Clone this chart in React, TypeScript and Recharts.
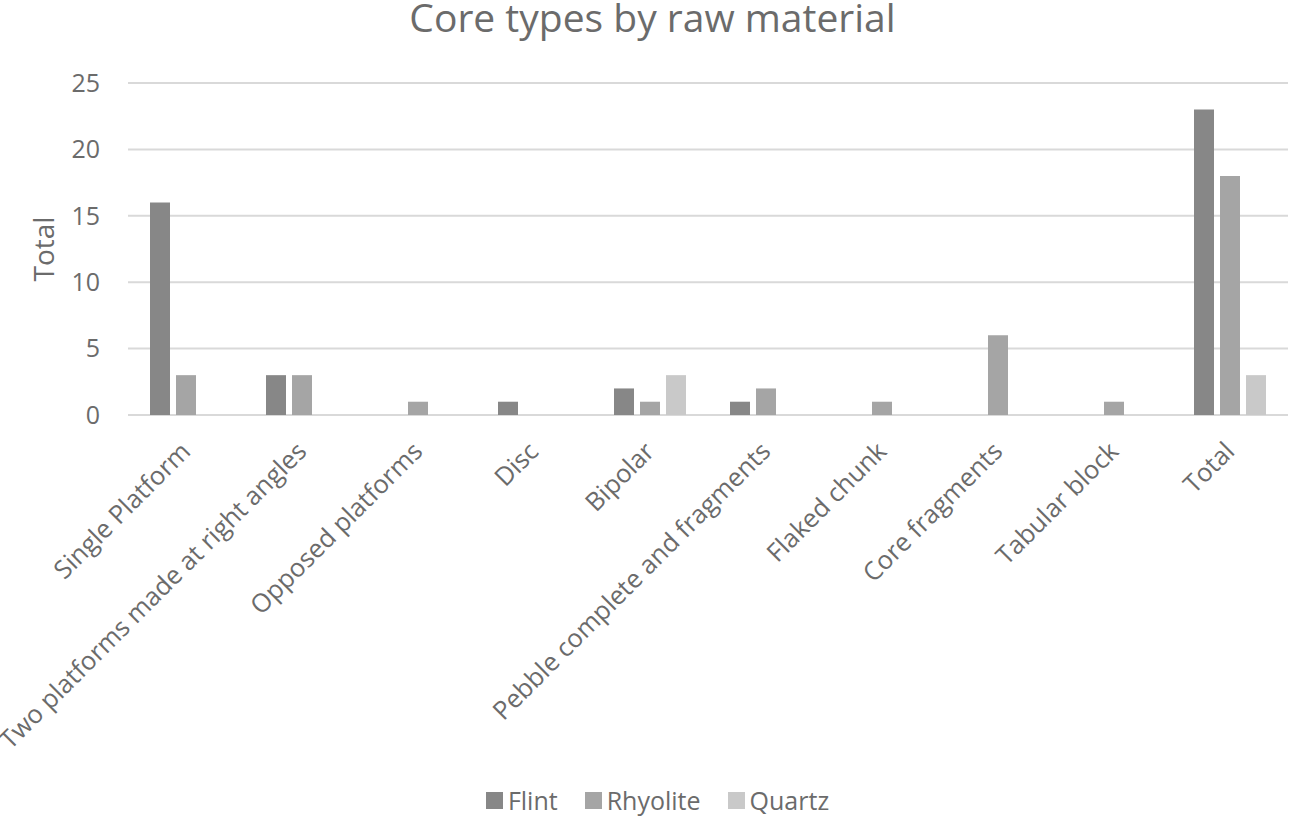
import { BarChart, Bar, XAxis, YAxis, CartesianGrid, Legend, Label } from 'recharts'

const categories = [
  'Single Platform',
  'Two platforms made at right angles',
  'Opposed platforms',
  'Disc',
  'Bipolar',
  'Pebble complete and fragments',
  'Flaked chunk',
  'Core fragments',
  'Tabular block',
  'Total',
]
const flint = [16, 3, 0, 1, 2, 1, 0, 0, 0, 23]
const rhyolite = [3, 3, 1, 0, 1, 2, 1, 6, 1, 18]
const quartz = [0, 0, 0, 0, 3, 0, 0, 0, 0, 3]
const yTicks = [0, 5, 10, 15, 20, 25]

const series = [
  { key: 'Flint', color: '#878787' },
  { key: 'Rhyolite', color: '#a5a5a5' },
  { key: 'Quartz', color: '#c9c9c9' },
]

const data = categories.map((name, i) => ({
  name,
  Flint: flint[i],
  Rhyolite: rhyolite[i],
  Quartz: quartz[i],
}))

const FONT = '"Open Sans", Lato, sans-serif'
const TEXT = '#6b6b6b'

function XTick({ x, y, payload }: any) {
  const px = x + 6
  const py = y + 36
  return (
    <text
      x={px}
      y={py}
      transform={`rotate(-45, ${px}, ${py})`}
      textAnchor="end"
      fill={TEXT}
      fontSize={25.5}
      fontFamily={FONT}
    >
      {payload.value}
    </text>
  )
}

// legend keeps the series order instead of the default alphabetical one
function LegendContent() {
  return (
    <div
      style={{
        display: 'flex',
        justifyContent: 'center',
        alignItems: 'center',
        gap: 27,
        height: 34,
        paddingLeft: 27,
      }}
    >
      {series.map((s) => (
        <div key={s.key} style={{ display: 'flex', alignItems: 'center', height: 34 }}>
          <span style={{ width: 17, height: 17, background: s.color, display: 'inline-block', marginRight: 5 }} />
          <span style={{ color: TEXT, fontSize: 25, fontFamily: FONT, lineHeight: '34px' }}>{s.key}</span>
        </div>
      ))}
    </div>
  )
}

export default function App() {
  return (
    <div style={{ position: 'absolute', left: 0, top: 0, width: 1289, height: 817, background: '#fff' }}>
      <div
        style={{
          position: 'absolute',
          left: 0,
          top: 2,
          width: 1289,
          paddingLeft: 16,
          boxSizing: 'border-box',
          textAlign: 'center',
          fontFamily: FONT,
          fontSize: 39,
          color: TEXT,
          lineHeight: '30px',
        }}
      >
        Core types by raw material
      </div>
      <BarChart
        width={1289}
        height={817}
        data={data}
        margin={{ top: 83, right: 1, left: 0, bottom: 0 }}
        barCategoryGap={22}
        barGap={6}
      >
        <CartesianGrid vertical={false} stroke="#d9d9d9" strokeWidth={2} />
        <XAxis
          dataKey="name"
          interval={0}
          height={368}
          axisLine={false}
          tickLine={false}
          tickSize={0}
          tick={<XTick />}
        />
        <YAxis
          width={128}
          domain={[0, 25]}
          ticks={yTicks}
          axisLine={false}
          tickLine={false}
          tickSize={0}
          tickMargin={28}
          tick={{ fill: TEXT, fontSize: 25, fontFamily: FONT }}
        >
          <Label
            content={({ viewBox }: any) => (
              <text
                x={43}
                y={viewBox.y + viewBox.height / 2}
                transform={`rotate(-90, 43, ${viewBox.y + viewBox.height / 2})`}
                textAnchor="middle"
                dominantBaseline="central"
                fill={TEXT}
                fontSize={28}
                fontFamily={FONT}
              >
                Total
              </text>
            )}
          />
        </YAxis>
        <Legend verticalAlign="bottom" height={34} content={<LegendContent />} />
        {series.map((s) => (
          <Bar key={s.key} dataKey={s.key} fill={s.color} isAnimationActive={false} />
        ))}
      </BarChart>
    </div>
  )
}
